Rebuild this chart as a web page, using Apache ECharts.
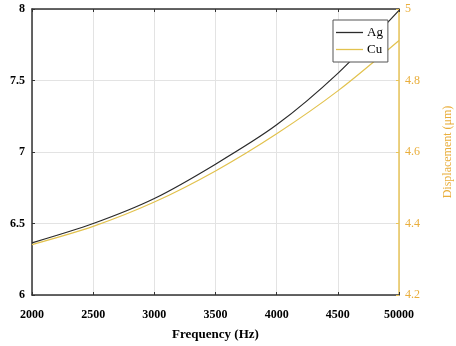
<!DOCTYPE html>
<html>
<head>
<meta charset="utf-8">
<script src="https://cdn.jsdelivr.net/npm/echarts@6/dist/echarts.min.js"></script>
<style>
  html, body { margin: 0; padding: 0; background: #fff; }
  #chart { width: 456px; height: 346px; }
</style>
</head>
<body>
<div id="chart"></div>
<script>
// frequency samples (Hz)
const freq = [2000, 2500, 3000, 3500, 4000, 4500, 5000];
// Ag on the left axis
const agValues = [6.365, 6.50, 6.675, 6.915, 7.19, 7.55, 7.99];
// Cu on the right axis (Displacement, um)
const cuValues = [4.341, 4.392, 4.46, 4.547, 4.651, 4.771, 4.912];
// x tick labels as printed (the last one reads 50000 in the source)
const xTickLabels = ["2000", "2500", "3000", "3500", "4000", "4500", "50000"];

const font = "Liberation Serif";
const gold = "#E9AE3C";
const goldLine = "#E8C45A";
const dark = "#333";

let myChart = echarts.init(document.getElementById("chart"));
let option = {
  animation: false,
  textStyle: { fontFamily: font },
  grid: { left: 32, right: 57, top: 9, bottom: 51, outerBoundsMode: "none" },
  legend: {
    orient: "vertical",
    left: 333,
    top: 20,
    z: 10,
    padding: [6, 5, 6, 3],
    itemGap: 4,
    itemWidth: 27,
    itemHeight: 1.3,
    icon: "rect",
    backgroundColor: "#fff",
    borderColor: "#555",
    borderWidth: 1,
    textStyle: { fontFamily: font, fontSize: 13, color: "#000", padding: [0, 0, 0, -1] },
    data: ["Ag", "Cu"],
  },
  xAxis: [
    {
      type: "value",
      min: 2000,
      max: 5000,
      interval: 500,
      name: "Frequency (Hz)",
      nameLocation: "middle",
      nameGap: 33,
      nameTextStyle: { fontFamily: font, fontSize: 13, fontWeight: "bold", color: "#000" },
      axisLine: { lineStyle: { color: dark, width: 1.5 } },
      axisTick: { inside: true, length: 3, lineStyle: { color: dark } },
      axisLabel: {
        margin: 14,
        fontFamily: font,
        fontSize: 12,
        fontWeight: "bold",
        color: "#000",
        formatter: (v) => xTickLabels[freq.indexOf(v)],
      },
      splitLine: { show: true, lineStyle: { color: "#e3e3e3" } },
    },
    {
      // top frame line
      type: "value",
      position: "top",
      min: 2000,
      max: 5000,
      interval: 500,
      axisLine: { show: true, lineStyle: { color: dark, width: 1.5 } },
      axisTick: { show: true, inside: true, length: 3, lineStyle: { color: dark } },
      axisLabel: { show: false },
      splitLine: { show: false },
    },
  ],
  yAxis: [
    {
      type: "value",
      min: 6,
      max: 8,
      interval: 0.5,
      axisLine: { show: true, lineStyle: { color: dark, width: 1.5 } },
      axisTick: { show: true, inside: true, length: 3, lineStyle: { color: dark } },
      axisLabel: { margin: 7, fontFamily: font, fontSize: 12, fontWeight: "bold", color: "#000" },
      splitLine: { show: true, lineStyle: { color: "#e3e3e3" } },
    },
    {
      type: "value",
      position: "right",
      min: 4.2,
      max: 5,
      interval: 0.2,
      name: "Displacement (\u03bcm)",
      nameLocation: "middle",
      nameRotate: 90,
      nameGap: 43,
      nameTextStyle: { fontFamily: font, fontSize: 12, color: gold },
      axisLine: { show: true, lineStyle: { color: goldLine, width: 1.5 } },
      axisTick: { show: true, inside: true, length: 3, lineStyle: { color: goldLine } },
      axisLabel: {
        margin: 6,
        fontFamily: font,
        fontSize: 12,
        color: gold,
        formatter: (v) => String(Number(v.toFixed(1))),
      },
      splitLine: { show: false },
    },
  ],
  series: [
    {
      name: "Ag",
      type: "line",
      yAxisIndex: 0,
      smooth: 0.3,
      symbol: "none",
      lineStyle: { color: "#2b2b2b", width: 1.2 },
      itemStyle: { color: "#2b2b2b" },
      data: freq.map((f, i) => [f, agValues[i]]),
      z: 3,
    },
    {
      name: "Cu",
      type: "line",
      yAxisIndex: 1,
      smooth: 0.3,
      symbol: "none",
      lineStyle: { color: "#E2C24E", width: 1.2 },
      itemStyle: { color: "#E2C24E" },
      data: freq.map((f, i) => [f, cuValues[i]]),
      z: 2,
    },
  ],
};
myChart.setOption(option);
window.addEventListener("resize", () => {
  myChart.resize();
});
</script>
</body>
</html>
